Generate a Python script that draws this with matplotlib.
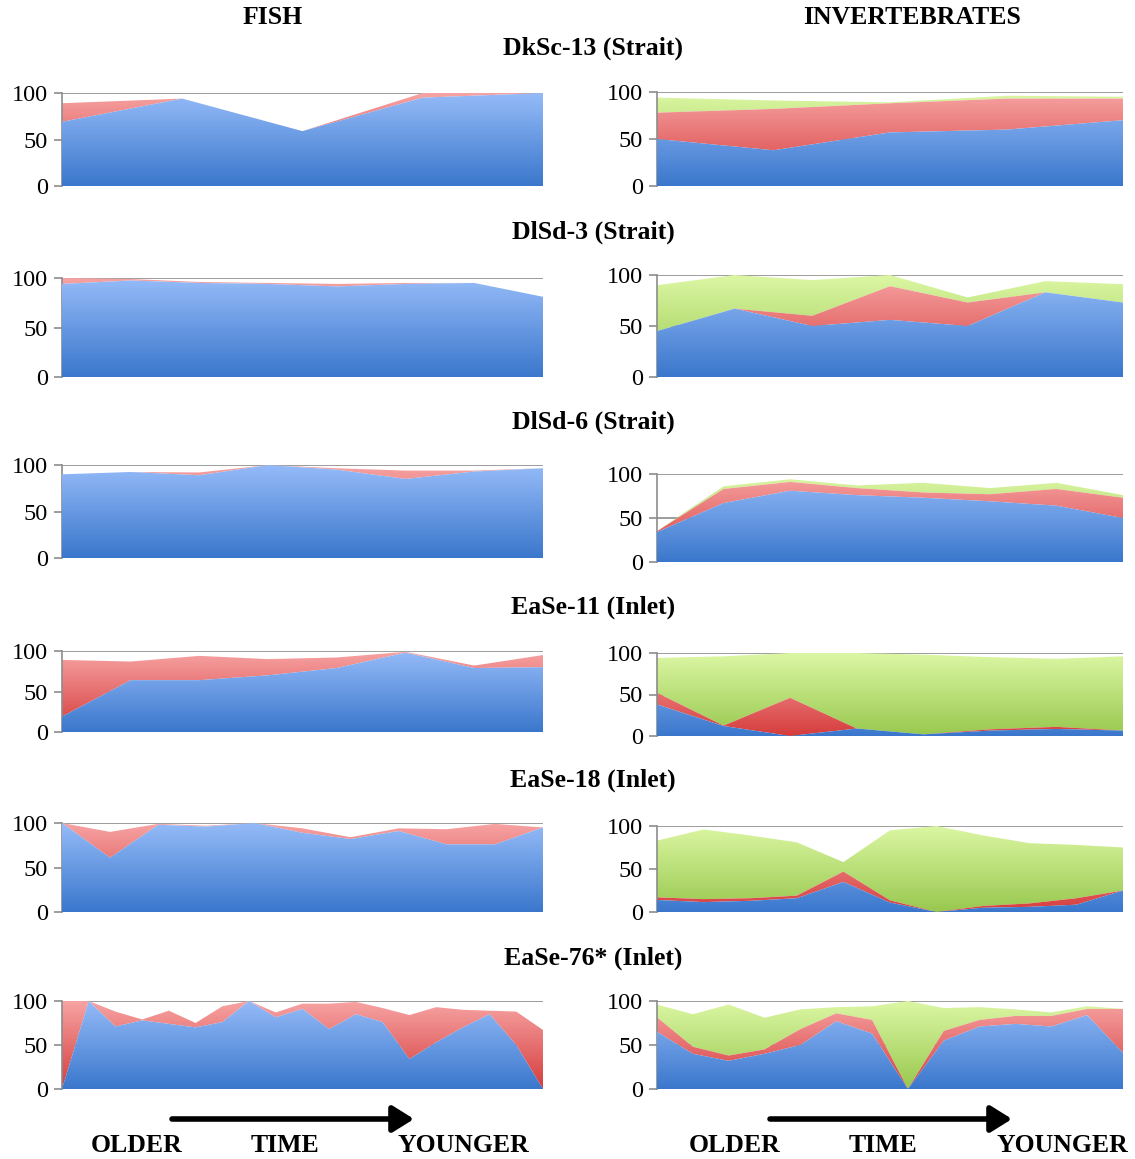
import numpy as np
import matplotlib
matplotlib.use("Agg")
import matplotlib.pyplot as plt
from matplotlib.colors import LinearSegmentedColormap
from matplotlib.path import Path
from matplotlib.patches import PathPatch, FancyArrowPatch

plt.rcParams['font.family'] = ['Liberation Serif', 'DejaVu Serif']

# ---------------- data (percent, stacked components) ----------------
sites = ["DkSc-13 (Strait)", "DlSd-3 (Strait)", "DlSd-6 (Strait)",
         "EaSe-11 (Inlet)", "EaSe-18 (Inlet)", "EaSe-76* (Inlet)"]
column_titles = ["FISH", "INVERTEBRATES"]
yticks = [0, 50, 100]

# FISH: blue (bottom) and red (top) components
fish_blue_dksc13 = [69, 94, 59, 95, 100]
fish_red_dksc13 = [20, 0, 0, 5, 0]

fish_blue_dlsd3 = [94, 97.5, 95, 94, 91.5, 94, 95, 81]
fish_red_dlsd3 = [6, 1.5, 1, 1, 2.5, 1, 0, 0]

fish_blue_dlsd6 = [90, 92.5, 89, 100, 95, 85, 93, 96.5]
fish_red_dlsd6 = [0, 0, 3, 0, 1.5, 9, 1, 0]

fish_blue_ease11 = [19, 64, 64, 70, 79, 98, 79, 80]
fish_red_ease11 = [70, 23, 30, 20, 13, 1, 3, 15]

fish_blue_ease18 = [100, 61, 98, 96, 100, 89, 82, 91, 76, 76, 95]
fish_red_ease18 = [0, 29, 1, 1, 0, 5, 2, 3, 17, 23, 0]

fish_blue_ease76 = [0, 100, 71, 78, 74, 70, 76, 100, 81.5, 91, 68, 85, 76, 34, 53, 70, 85, 50, 0]
fish_red_ease76 = [100, 0, 17, 1, 15, 5, 18, 0, 5.5, 6, 29, 14, 16, 50, 40, 20, 4, 38, 67]

# INVERTEBRATES: blue (bottom), red (middle), green (top) components
inv_blue_dksc13 = [50, 38, 57, 60, 70]
inv_red_dksc13 = [28, 44, 31, 33, 23]
inv_green_dksc13 = [16, 9, 1, 3, 2]

inv_blue_dlsd3 = [45, 67, 50, 56, 50, 83, 73]
inv_red_dlsd3 = [0, 0, 10, 33, 23, 0, 0]
inv_green_dlsd3 = [45, 33, 35, 11, 5, 11, 18]

inv_blue_dlsd6 = [34, 67, 81, 76, 73, 69, 64, 50]
inv_red_dlsd6 = [1, 16, 10, 8, 6, 8, 19, 23]
inv_green_dlsd6 = [0, 3, 3, 3, 11, 7, 7, 3]

inv_blue_ease11 = [38, 12, 0, 9, 2, 6.5, 8.5, 6.5]
inv_red_ease11 = [14, 0.5, 46, 0, 0, 1.5, 2.5, 0]
inv_green_ease11 = [42, 83.5, 54, 91, 96, 87, 82, 89.5]

inv_blue_ease18 = [14, 11.5, 13, 16, 35, 11, 0, 5, 6, 8.5, 25]
inv_red_ease18 = [3, 3.5, 3, 3, 12, 2.5, 0, 2, 4, 7.5, 0]
inv_green_ease18 = [66, 81, 73, 62, 11, 81.5, 100, 82, 70, 62, 50]

inv_blue_ease76 = [65, 40, 32, 40, 50, 77, 63, 0, 55, 71, 74, 71, 84, 41]
inv_red_ease76 = [16.5, 8, 6, 5, 18, 9, 15.5, 0, 11, 7.5, 9, 12, 7, 50]
inv_green_ease76 = [14.5, 37, 58, 36, 22.5, 7, 15.5, 100, 26, 14.5, 7.5, 4, 3, 0]

fish_data = [
    (fish_blue_dksc13, fish_red_dksc13),
    (fish_blue_dlsd3, fish_red_dlsd3),
    (fish_blue_dlsd6, fish_red_dlsd6),
    (fish_blue_ease11, fish_red_ease11),
    (fish_blue_ease18, fish_red_ease18),
    (fish_blue_ease76, fish_red_ease76),
]
inv_data = [
    (inv_blue_dksc13, inv_red_dksc13, inv_green_dksc13),
    (inv_blue_dlsd3, inv_red_dlsd3, inv_green_dlsd3),
    (inv_blue_dlsd6, inv_red_dlsd6, inv_green_dlsd6),
    (inv_blue_ease11, inv_red_ease11, inv_green_ease11),
    (inv_blue_ease18, inv_red_ease18, inv_green_ease18),
    (inv_blue_ease76, inv_red_ease76, inv_green_ease76),
]

# ---------------- styling ----------------
BLUE = ("#3a77cc", "#95bbf8")
RED = ("#d63c3c", "#f7a3a3")
GREEN = ("#98c84e", "#dcf7a4")
GRID = "#8c8c8c"

W, H = 1135, 1159
fig = plt.figure(figsize=(W / 100, H / 100), dpi=100)

left_x = (62, 543)
right_x = (657, 1123)
left_rows = [(93, 186), (278, 377), (465, 558), (651, 732), (823, 912), (1001, 1089)]
right_rows = [(92, 186), (275, 377), (474, 562), (653, 736), (826, 912), (1001, 1089)]


def make_ax(xr, yr):
    x0, x1 = xr
    ytop, ybot = yr
    return fig.add_axes([x0 / W, 1 - ybot / H, (x1 - x0) / W, (ybot - ytop) / H])


def grad_fill(ax, x, lower, upper, colors, z):
    verts = np.concatenate([np.column_stack([x, upper]),
                            np.column_stack([x[::-1], lower[::-1]])])
    path = Path(verts, closed=False)
    patch = PathPatch(path, facecolor='none', edgecolor='none', transform=ax.transData)
    ax.add_patch(patch)
    cmap = LinearSegmentedColormap.from_list("g", list(colors))
    grad = np.linspace(0, 1, 256).reshape(-1, 1)
    im = ax.imshow(grad, extent=[x[0], x[-1], 0, 100], origin='lower', cmap=cmap,
                   aspect='auto', zorder=z, interpolation='bilinear')
    im.set_clip_path(patch)


def style_ax(ax, n):
    ax.set_xlim(0, n - 1)
    ax.set_ylim(0, 100)
    for s in ['top', 'right', 'bottom']:
        ax.spines[s].set_visible(False)
    ax.spines['left'].set_color(GRID)
    ax.spines['left'].set_linewidth(1.2)
    ax.set_yticks(yticks)
    ax.set_yticklabels([str(t) for t in yticks], fontsize=17.5)
    ax.tick_params(axis='y', colors=GRID, length=6, width=1.2, labelcolor='black', pad=4)
    ax.set_xticks([])
    for t in yticks:
        ax.axhline(t, color=GRID, lw=1.2, zorder=0.5)
    ax.set_facecolor('none')


for i in range(6):
    # fish
    ax = make_ax(left_x, left_rows[i])
    b, r = (np.array(v, float) for v in fish_data[i])
    x = np.arange(len(b))
    zero = np.zeros_like(b)
    grad_fill(ax, x, b, b + r, RED, 2)
    grad_fill(ax, x, zero, b, BLUE, 3)
    style_ax(ax, len(b))

    # invertebrates
    ax = make_ax(right_x, right_rows[i])
    b, r, g = (np.array(v, float) for v in inv_data[i])
    x = np.arange(len(b))
    zero = np.zeros_like(b)
    grad_fill(ax, x, b + r, b + r + g, GREEN, 1.5)
    grad_fill(ax, x, b, b + r, RED, 2)
    grad_fill(ax, x, zero, b, BLUE, 3)
    style_ax(ax, len(b))

# titles
title_kw = dict(fontsize=18.5, fontweight='bold', ha='center', va='center')
fig.text(273 / W, 1 - 18 / H, column_titles[0], **title_kw)
fig.text(912 / W, 1 - 18 / H, column_titles[1], **title_kw)
site_y = [48, 232, 422, 607, 780, 958]
for s, yy in zip(sites, site_y):
    fig.text(593 / W, 1 - yy / H, s, **title_kw)

# bottom time arrows
for (ax0, ax1, xo, xt, xy) in [(172, 414, 137, 285, 463), (770, 1012, 735, 883, 1062)]:
    fig.add_artist(FancyArrowPatch(
        (ax0 / W, 1 - 1119 / H), (ax1 / W, 1 - 1119 / H),
        transform=fig.transFigure, arrowstyle='-|>,head_length=8,head_width=5',
        mutation_scale=1.6, lw=4, color='black', shrinkA=0, shrinkB=0))
    fig.text(xo / W, 1 - 1145 / H, "OLDER", **title_kw)
    fig.text(xt / W, 1 - 1145 / H, "TIME", **title_kw)
    fig.text(xy / W, 1 - 1145 / H, "YOUNGER", **title_kw)

fig.savefig("out.png", dpi=100)
